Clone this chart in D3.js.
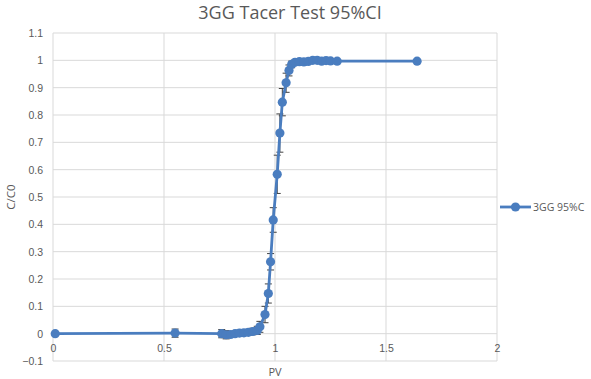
<!DOCTYPE html>
<html>
<head>
<meta charset="utf-8">
<script src="https://cdn.jsdelivr.net/npm/d3@7"></script>
<style>
  body { margin: 0; background: #fff; }
  svg { font-family: "Open Sans", "Noto Sans", sans-serif; }
</style>
</head>
<body>
<div class="container"></div>
<script>
// data
const pvValues = [0.01, 0.55, 0.76, 0.78, 0.80, 0.82, 0.84, 0.86, 0.88, 0.90, 0.92,
  0.932, 0.955, 0.97, 0.98, 0.992, 1.01, 1.022, 1.033, 1.05, 1.063, 1.075,
  1.09, 1.11, 1.13, 1.15, 1.17, 1.19, 1.21, 1.23, 1.25, 1.28, 1.64]
const ccValues = [0, 0.002, 0, -0.004, -0.003, 0, 0.002, 0.003, 0.005, 0.008, 0.012,
  0.025, 0.07, 0.147, 0.263, 0.416, 0.583, 0.734, 0.847, 0.918, 0.963, 0.985,
  0.993, 0.995, 0.994, 0.996, 1.0, 1.0, 0.997, 0.999, 0.998, 0.997, 0.997]
const ciValues = [0.004, 0.015, 0.015, 0.015, 0.01, 0.01, 0.01, 0.01, 0.01, 0.012, 0.015,
  0.02, 0.03, 0.035, 0.03, 0.045, 0.07, 0.07, 0.05, 0.035, 0.02, 0.012,
  0.008, 0.006, 0.006, 0.006, 0.006, 0.006, 0.006, 0.005, 0.005, 0.004, 0.003]
const xTicks = [0, 0.5, 1, 1.5, 2]
const yTicks = [-0.1, 0, 0.1, 0.2, 0.3, 0.4, 0.5, 0.6, 0.7, 0.8, 0.9, 1, 1.1]
const seriesName = "3GG 95%C"
const chartTitle = "3GG Tacer Test 95%CI"

const width = 591, height = 379
const margin = { left: 53, right: 94, top: 33, bottom: 18 }
const blue = "#4a7dbf"
const textCol = "#595959"

const points = pvValues.map((x, i) => ({ x: x, y: ccValues[i], e: ciValues[i] }))

const svg = d3.select("div.container").append("svg")
  .attr("width", width)
  .attr("height", height)

const x = d3.scaleLinear().domain([0, 2]).range([margin.left, width - margin.right])
const y = d3.scaleLinear().domain([-0.1, 1.1]).range([height - margin.bottom, margin.top])

// gridlines
svg.append("g")
  .selectAll("line.h")
  .data(yTicks)
  .enter().append("line")
  .attr("x1", x(0)).attr("x2", x(2))
  .attr("y1", d => y(d)).attr("y2", d => y(d))
  .attr("stroke", "#d9d9d9").attr("stroke-width", 1)

svg.append("g")
  .selectAll("line.v")
  .data(xTicks)
  .enter().append("line")
  .attr("x1", d => x(d)).attr("x2", d => x(d))
  .attr("y1", y(1.1)).attr("y2", y(-0.1))
  .attr("stroke", "#d9d9d9").attr("stroke-width", 1)

// y axis labels
const yAxis = d3.axisLeft(y).tickValues(yTicks).tickSize(0).tickPadding(10)
  .tickFormat(d => d3.format("")(+d.toFixed(1)))
svg.append("g")
  .attr("transform", `translate(${x(0)},0)`)
  .call(yAxis)
  .call(g => g.select(".domain").remove())
  .selectAll("text")
  .attr("fill", textCol).style("font-size", "10.5px")

// x axis labels sit just under the zero line
const xAxis = d3.axisBottom(x).tickValues(xTicks).tickSize(0).tickPadding(11)
  .tickFormat(d3.format(""))
svg.append("g")
  .attr("transform", `translate(0,${y(0)})`)
  .call(xAxis)
  .call(g => g.select(".domain").remove())
  .selectAll("text")
  .attr("fill", textCol).style("font-size", "10.5px")

// title and axis titles
svg.append("text")
  .attr("x", 290).attr("y", 19)
  .attr("text-anchor", "middle")
  .attr("fill", textCol)
  .style("font-size", "18px")
  .text(chartTitle)

svg.append("text")
  .attr("x", x(1)).attr("y", 376)
  .attr("text-anchor", "middle")
  .attr("fill", textCol)
  .style("font-size", "11px")
  .text("PV")

svg.append("text")
  .attr("transform", `translate(15,${y(0.5)}) rotate(-90)`)
  .attr("text-anchor", "middle")
  .attr("fill", textCol)
  .style("font-size", "11.5px")
  .text("C/C0")

// error bars
const eb = svg.append("g")
eb.selectAll("line.bar")
  .data(points)
  .enter().append("line")
  .attr("x1", d => x(d.x)).attr("x2", d => x(d.x))
  .attr("y1", d => y(d.y - d.e)).attr("y2", d => y(d.y + d.e))
  .attr("stroke", "#404040").attr("stroke-width", 1)
;["lo", "hi"].forEach(k => {
  eb.selectAll("line.cap" + k)
    .data(points)
    .enter().append("line")
    .attr("x1", d => x(d.x) - 3.5).attr("x2", d => x(d.x) + 3.5)
    .attr("y1", d => y(k == "lo" ? d.y - d.e : d.y + d.e))
    .attr("y2", d => y(k == "lo" ? d.y - d.e : d.y + d.e))
    .attr("stroke", "#404040").attr("stroke-width", 1)
})

// series line and markers
const line = d3.line().x(d => x(d.x)).y(d => y(d.y))
svg.append("path")
  .datum(points)
  .attr("d", line)
  .attr("fill", "none")
  .attr("stroke", blue)
  .attr("stroke-width", 2.8)
  .attr("stroke-linejoin", "round")

svg.append("g")
  .selectAll("circle")
  .data(points)
  .enter().append("circle")
  .attr("cx", d => x(d.x)).attr("cy", d => y(d.y))
  .attr("r", 4.6)
  .attr("fill", blue)

// legend
const lg = svg.append("g").attr("transform", "translate(500,207)")
lg.append("line").attr("x1", 0).attr("x2", 31).attr("y1", 0).attr("y2", 0)
  .attr("stroke", blue).attr("stroke-width", 2.8)
lg.append("circle").attr("cx", 15.5).attr("cy", 0).attr("r", 4.6).attr("fill", blue)
lg.append("text").attr("x", 33).attr("y", 3.5)
  .attr("fill", textCol).style("font-size", "10.5px")
  .text(seriesName)
</script>
</body>
</html>
